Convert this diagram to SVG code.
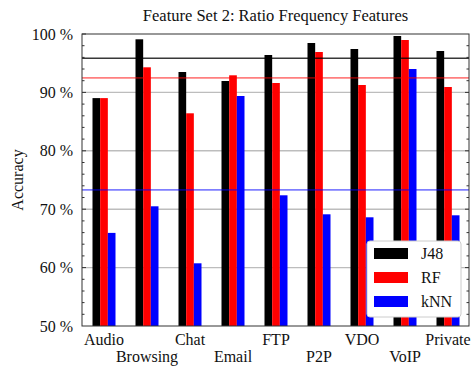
<svg xmlns="http://www.w3.org/2000/svg" width="474" height="366" viewBox="0 0 474 366">
  <style>
    text { font-family: "Liberation Serif", "Times New Roman", serif; fill: #111; }
    .tick-label { font-size: 16px; text-anchor: end; }
    .cat { font-size: 16px; text-anchor: middle; }
    .grid { stroke: #bdbdbd; stroke-width: 1.4; }
    .frame { fill: none; stroke: #333; stroke-width: 1; }
    .tick { stroke: #333; stroke-width: 1; }
    .j48 { fill: #000000; }
    .rf { fill: #ff0000; }
    .knn { fill: #0000ff; }
  </style>
  <rect width="474" height="366" fill="#ffffff"/>

  <!-- title -->
  <text x="275.5" y="21" font-size="16.5" text-anchor="middle">Feature Set 2: Ratio Frequency Features</text>

  <!-- horizontal grid lines (y = 326 - (v-50)*5.84) -->
  <g id="grid">
    <line class="grid" x1="82" y1="92.4" x2="469" y2="92.4"/>
    <line class="grid" x1="82" y1="150.8" x2="469" y2="150.8"/>
    <line class="grid" x1="82" y1="209.2" x2="469" y2="209.2"/>
    <line class="grid" x1="82" y1="267.6" x2="469" y2="267.6"/>
  </g>

  <!-- bars: width 7.67, group centre c = 104 + 43k -->
  <g id="audio">
    <rect class="j48" x="92.5" y="98.1" width="7.67" height="227.9"/>
    <rect class="rf" x="100.17" y="98.1" width="7.67" height="227.9"/>
    <rect class="knn" x="107.83" y="232.9" width="7.67" height="93.1"/>
  </g>
  <g id="browsing">
    <rect class="j48" x="135.5" y="39.3" width="7.67" height="286.7"/>
    <rect class="rf" x="143.17" y="67.3" width="7.67" height="258.7"/>
    <rect class="knn" x="150.83" y="206.3" width="7.67" height="119.7"/>
  </g>
  <g id="chat">
    <rect class="j48" x="178.5" y="72" width="7.67" height="254"/>
    <rect class="rf" x="186.17" y="113.3" width="7.67" height="212.7"/>
    <rect class="knn" x="193.83" y="263.3" width="7.67" height="62.7"/>
  </g>
  <g id="email">
    <rect class="j48" x="221.5" y="81" width="7.67" height="245"/>
    <rect class="rf" x="229.17" y="75.3" width="7.67" height="250.7"/>
    <rect class="knn" x="236.83" y="96" width="7.67" height="230"/>
  </g>
  <g id="ftp">
    <rect class="j48" x="264.5" y="55" width="7.67" height="271"/>
    <rect class="rf" x="272.17" y="83" width="7.67" height="243"/>
    <rect class="knn" x="279.83" y="195.3" width="7.67" height="130.7"/>
  </g>
  <g id="p2p">
    <rect class="j48" x="307.5" y="43" width="7.67" height="283"/>
    <rect class="rf" x="315.17" y="52" width="7.67" height="274"/>
    <rect class="knn" x="322.83" y="214.3" width="7.67" height="111.7"/>
  </g>
  <g id="vdo">
    <rect class="j48" x="350.5" y="49" width="7.67" height="277"/>
    <rect class="rf" x="358.17" y="85" width="7.67" height="241"/>
    <rect class="knn" x="365.83" y="217.3" width="7.67" height="108.7"/>
  </g>
  <g id="voip">
    <rect class="j48" x="393.5" y="36" width="7.67" height="290"/>
    <rect class="rf" x="401.17" y="40" width="7.67" height="286"/>
    <rect class="knn" x="408.83" y="69" width="7.67" height="257"/>
  </g>
  <g id="private">
    <rect class="j48" x="436.5" y="51" width="7.67" height="275"/>
    <rect class="rf" x="444.17" y="87" width="7.67" height="239"/>
    <rect class="knn" x="451.83" y="215.3" width="7.67" height="110.7"/>
  </g>

  <!-- mean accuracy of each classifier -->
  <g id="means">
    <line x1="82" y1="58.2" x2="469" y2="58.2" stroke="#000" stroke-opacity="0.78" stroke-width="1.5"/>
    <line x1="82" y1="77.9" x2="469" y2="77.9" stroke="#ff0000" stroke-opacity="0.5" stroke-width="1.6"/>
    <line x1="82" y1="189.9" x2="469" y2="189.9" stroke="#0000ff" stroke-opacity="0.5" stroke-width="1.6"/>
  </g>

  <!-- axis frame and ticks -->
  <g id="axes">
    <rect class="frame" x="82" y="34" width="387" height="292"/>
    <path class="tick" d="M82 34h4M82 92.4h4M82 150.8h4M82 209.2h4M82 267.6h4
      M82 45.7h2.5M82 57.4h2.5M82 69h2.5M82 80.7h2.5
      M82 104.1h2.5M82 115.8h2.5M82 127.4h2.5M82 139.1h2.5
      M82 162.5h2.5M82 174.2h2.5M82 185.8h2.5M82 197.5h2.5
      M82 220.9h2.5M82 232.6h2.5M82 244.2h2.5M82 255.9h2.5
      M82 279.3h2.5M82 291h2.5M82 302.6h2.5M82 314.3h2.5
      M469 92.4h-4M469 150.8h-4M469 209.2h-4M469 267.6h-4
      M469 45.7h-2.5M469 57.4h-2.5M469 69h-2.5M469 80.7h-2.5
      M469 104.1h-2.5M469 115.8h-2.5M469 127.4h-2.5M469 139.1h-2.5
      M469 162.5h-2.5M469 174.2h-2.5M469 185.8h-2.5M469 197.5h-2.5
      M469 220.9h-2.5M469 232.6h-2.5M469 244.2h-2.5M469 255.9h-2.5
      M469 279.3h-2.5M469 291h-2.5M469 302.6h-2.5M469 314.3h-2.5"/>
  </g>

  <!-- y tick labels -->
  <g id="y-labels">
    <text class="tick-label" x="73" y="39.5">100 %</text>
    <text class="tick-label" x="73" y="97.9">90 %</text>
    <text class="tick-label" x="73" y="156.3">80 %</text>
    <text class="tick-label" x="73" y="214.7">70 %</text>
    <text class="tick-label" x="73" y="273.1">60 %</text>
    <text class="tick-label" x="73" y="331.5">50 %</text>
  </g>
  <text x="23" y="180" font-size="16" text-anchor="middle" transform="rotate(-90 23 180)">Accuracy</text>

  <!-- category labels, staggered -->
  <g id="x-labels">
    <text class="cat" x="104" y="344.5">Audio</text>
    <text class="cat" x="147" y="362">Browsing</text>
    <text class="cat" x="190" y="344.5">Chat</text>
    <text class="cat" x="233" y="362">Email</text>
    <text class="cat" x="276" y="344.5">FTP</text>
    <text class="cat" x="319" y="362">P2P</text>
    <text class="cat" x="362" y="344.5">VDO</text>
    <text class="cat" x="405" y="362">VoIP</text>
    <text class="cat" x="448" y="344.5">Private</text>
  </g>

  <!-- legend -->
  <g id="legend">
    <rect x="367" y="241" width="94" height="76" rx="3" fill="#ffffff" stroke="#cccccc" stroke-width="1"/>
    <rect class="j48" x="374" y="248" width="34" height="11"/>
    <rect class="rf" x="374" y="272" width="34" height="11"/>
    <rect class="knn" x="374" y="296" width="34" height="11"/>
    <text x="421" y="259" font-size="16">J48</text>
    <text x="421" y="283" font-size="16">RF</text>
    <text x="421" y="307" font-size="16">kNN</text>
  </g>
</svg>
